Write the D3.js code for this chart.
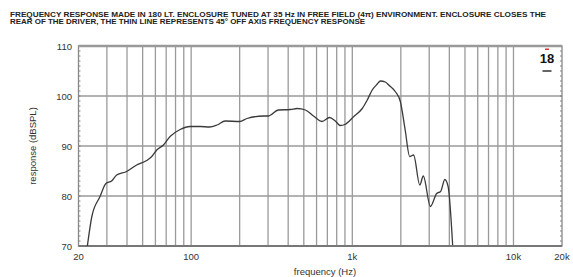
<!DOCTYPE html>
<html>
<head>
<meta charset="utf-8">
<script src="https://cdn.jsdelivr.net/npm/d3@7"></script>
<style>
  body { margin: 0; background: #fff; }
  text { font-family: "Liberation Sans", Arial, sans-serif; }
</style>
</head>
<body>
<div id="chart"></div>
<script>
// on-axis response
var freq = [22.7, 24.2, 27.2, 29.6, 32.1, 34.5, 39.8, 45.9, 53, 57, 61.2, 67.3, 74, 85.4, 98.6,
  113.8, 130, 144.6, 162.6, 200, 222, 281, 300, 348, 413, 454, 512, 574, 648, 722, 784, 842,
  900, 1022, 1152, 1238, 1329, 1420, 1496, 1600, 1682, 1846, 1986, 2128, 2270, 2400, 2622,
  2757, 3050, 3338, 3530, 3750, 3930, 4192]
var spl = [70, 75.9, 79.9, 82.5, 83, 84.2, 84.9, 86.2, 87.1, 87.9, 89.2, 90.2, 91.9, 93.3, 93.9,
  93.9, 93.8, 94.2, 95, 94.9, 95.5, 96, 96, 97.2, 97.3, 97.5, 97.2, 96, 94.9, 95.7, 95, 94.1,
  94.3, 95.9, 97.5, 99.2, 101.2, 102.3, 103, 102.8, 102.2, 100.9, 98.9, 93.2, 87.9, 88.2, 82.2,
  84, 77.9, 80.5, 80.9, 83.3, 81.9, 70.2]

var yTicks = [70, 80, 90, 100, 110]
var xTicks = [20, 100, 1000, 10000, 20000]
var xTickLabels = ["20", "100", "1k", "10k", "20k"]
var xGrid = [30, 40, 50, 60, 70, 80, 90, 100, 200, 300, 400, 500, 600, 700, 800, 900,
  1000, 2000, 3000, 4000, 5000, 6000, 7000, 8000, 9000, 10000]

var title = [
  "FREQUENCY RESPONSE MADE IN 180 LT. ENCLOSURE TUNED AT 35 Hz IN FREE FIELD (4\u03c0) ENVIRONMENT. ENCLOSURE CLOSES THE",
  "REAR OF THE DRIVER, THE THIN LINE REPRESENTS 45\u00b0 OFF AXIS FREQUENCY RESPONSE"
]

var draw = function () {
  var W = 573, H = 277
  var pl = 78.5, pr = 562, pt = 46, pb = 246

  var svg = d3.select("#chart").append("svg")
    .attr("width", W)
    .attr("height", H)

  var x = d3.scaleLog().domain([20, 20000]).range([pl, pr])
  var y = d3.scaleLinear().domain([70, 110]).range([pb, pt])

  // title
  svg.selectAll("text.title")
    .data(title)
    .join("text")
    .attr("class", "title")
    .attr("x", 10)
    .attr("y", (d, i) => 16.5 + i * 7)
    .attr("textLength", (d, i) => i == 0 ? 536 : 355)
    .attr("lengthAdjust", "spacingAndGlyphs")
    .attr("font-size", 6.8)
    .attr("font-weight", "bold")
    .attr("fill", "#222")
    .text(d => d)

  // grid
  var g = svg.append("g")

  g.selectAll("line.vg")
    .data(xGrid)
    .join("line")
    .attr("class", "vg")
    .attr("x1", d => x(d))
    .attr("x2", d => x(d))
    .attr("y1", pt)
    .attr("y2", pb)
    .attr("stroke", "#9a9a9a")
    .attr("stroke-width", 1.3)

  g.selectAll("line.hg")
    .data([80, 90, 100])
    .join("line")
    .attr("class", "hg")
    .attr("x1", pl)
    .attr("x2", pr)
    .attr("y1", d => y(d))
    .attr("y2", d => y(d))
    .attr("stroke", "#9a9a9a")
    .attr("stroke-width", 1.3)

  // small ticks along left and right edges, one per dB
  var minor = d3.range(70, 111, 1)
  g.selectAll("line.lt")
    .data(minor)
    .join("line")
    .attr("class", "lt")
    .attr("x1", pl)
    .attr("x2", pl + 2)
    .attr("y1", d => y(d))
    .attr("y2", d => y(d))
    .attr("stroke", "#666")
    .attr("stroke-width", 0.8)
  g.selectAll("line.rt")
    .data(minor)
    .join("line")
    .attr("class", "rt")
    .attr("x1", pr - 2)
    .attr("x2", pr)
    .attr("y1", d => y(d))
    .attr("y2", d => y(d))
    .attr("stroke", "#666")
    .attr("stroke-width", 0.8)

  // frame
  g.append("rect")
    .attr("x", pl)
    .attr("y", pt)
    .attr("width", pr - pl)
    .attr("height", pb - pt)
    .attr("fill", "none")
    .attr("stroke", "#888")
    .attr("stroke-width", 1.3)
  g.append("line")
    .attr("x1", pl).attr("x2", pr)
    .attr("y1", pt).attr("y2", pt)
    .attr("stroke", "#999").attr("stroke-width", 2.5)
  g.append("line")
    .attr("x1", pl).attr("x2", pr)
    .attr("y1", pb).attr("y2", pb)
    .attr("stroke", "#777").attr("stroke-width", 2)

  // curve
  svg.append("clipPath").attr("id", "clip")
    .append("rect")
    .attr("x", pl).attr("y", pt)
    .attr("width", pr - pl).attr("height", pb - pt)

  var pts = freq.map((f, i) => [f, spl[i]])
  var line = d3.line()
    .x(d => x(d[0]))
    .y(d => y(d[1]))
    .curve(d3.curveMonotoneX)

  svg.append("path")
    .datum(pts)
    .attr("clip-path", "url(#clip)")
    .attr("d", line)
    .attr("fill", "none")
    .attr("stroke", "#3a3a3a")
    .attr("stroke-width", 1.3)

  // axis labels
  svg.selectAll("text.yl")
    .data(yTicks)
    .join("text")
    .attr("class", "yl")
    .attr("x", 72)
    .attr("y", d => y(d) + 3.5)
    .attr("text-anchor", "end")
    .attr("font-size", 9.5)
    .attr("fill", "#333")
    .text(d => d)

  svg.selectAll("text.xl")
    .data(xTicks)
    .join("text")
    .attr("class", "xl")
    .attr("x", d => x(d))
    .attr("y", 260)
    .attr("text-anchor", "middle")
    .attr("font-size", 9.5)
    .attr("fill", "#333")
    .text((d, i) => xTickLabels[i])

  svg.append("text")
    .attr("transform", "translate(36,146) rotate(-90)")
    .attr("text-anchor", "middle")
    .attr("font-size", 9.5)
    .attr("fill", "#333")
    .text("response (dBSPL)")

  svg.append("text")
    .attr("x", 325)
    .attr("y", 275)
    .attr("text-anchor", "middle")
    .attr("font-size", 9.5)
    .attr("fill", "#333")
    .text("frequency (Hz)")

  // brand mark in the corner
  var logo = svg.append("g").attr("transform", "translate(547,0)")
  logo.append("rect")
    .attr("x", -2).attr("y", 48.5).attr("width", 4).attr("height", 1.5)
    .attr("fill", "#d33")
  logo.append("text")
    .attr("x", 0).attr("y", 63)
    .attr("text-anchor", "middle")
    .attr("font-size", 13)
    .attr("font-weight", "bold")
    .attr("font-family", "'Liberation Sans Narrow', 'Liberation Sans', sans-serif")
    .attr("fill", "#111")
    .text("18")
  logo.append("rect")
    .attr("x", -4.5).attr("y", 70).attr("width", 9).attr("height", 2)
    .attr("fill", "#666")
}

draw()
</script>
</body>
</html>
